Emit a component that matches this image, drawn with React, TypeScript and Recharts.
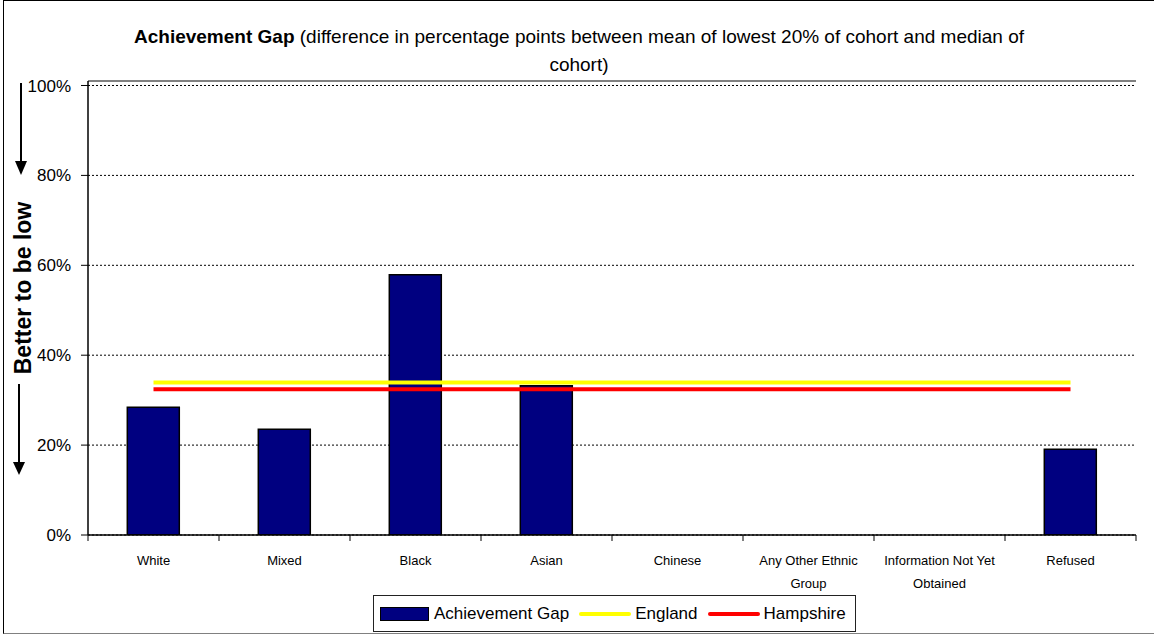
import {
  ComposedChart,
  Bar,
  Line,
  XAxis,
  YAxis,
  CartesianGrid,
  Legend,
  ReferenceLine,
} from "recharts";

const W = 1154;
const H = 634;

const categories = [
  "White",
  "Mixed",
  "Black",
  "Asian",
  "Chinese",
  "Any Other Ethnic Group",
  "Information Not Yet Obtained",
  "Refused",
];
const gapValues = [28.4, 23.5, 57.9, 33.2, null, null, null, 19.1];
const englandValues = [33.9, 33.9, 33.9, 33.9, 33.9, 33.9, 33.9, 33.9];
const hampshireValues = [32.4, 32.4, 32.4, 32.4, 32.4, 32.4, 32.4, 32.4];
const yTicks = [0, 20, 40, 60, 80, 100];

const data = categories.map((name, i) => ({
  name,
  gap: gapValues[i],
  england: englandValues[i],
  hampshire: hampshireValues[i],
}));

const FONT = '"Liberation Sans", Arial, sans-serif';

// simple word wrap, ~19 chars per line like the Excel original
function wrapLabel(s: string, max = 19): string[] {
  const lines: string[] = [];
  let cur = "";
  for (const w of s.split(" ")) {
    const next = cur ? cur + " " + w : w;
    if (next.length > max && cur) {
      lines.push(cur);
      cur = w;
    } else cur = next;
  }
  if (cur) lines.push(cur);
  return lines;
}

function CategoryTick(props: any) {
  const { x, y, payload, index, visibleTicksCount } = props;
  const half = payload.offset || 0;
  const axisY = y - 8;
  const lines = wrapLabel(String(payload.value));
  const isLast = index === visibleTicksCount - 1;
  return (
    <g>
      <line x1={x - half} y1={axisY} x2={x - half} y2={axisY + 6} stroke="#000" />
      {isLast && <line x1={x + half} y1={axisY} x2={x + half} y2={axisY + 6} stroke="#000" />}
      <text x={x} y={y + 22} textAnchor="middle" fontSize={13} fontFamily={FONT} fill="#000">
        {lines.map((l, i) => (
          <tspan key={i} x={x} dy={i === 0 ? 0 : 23}>
            {l}
          </tspan>
        ))}
      </text>
    </g>
  );
}

function LegendBox({ payload }: any) {
  return (
    <div
      style={{
        boxSizing: "border-box",
        width: 483,
        height: 37,
        border: "1px solid #222",
        background: "#fff",
        display: "flex",
        alignItems: "center",
        paddingLeft: 6,
        fontSize: 17,
        fontFamily: FONT,
        color: "#000",
        whiteSpace: "nowrap",
      }}
    >
      {(payload || []).map((p: any) => (
        <div
          key={p.value}
          style={{ display: "flex", alignItems: "center", marginRight: 10, flexShrink: 0 }}
        >
          {p.type === "rect" ? (
            <span
              style={{
                display: "inline-block",
                boxSizing: "border-box",
                width: 49,
                height: 14,
                background: "#000080",
                border: "1.5px solid #000",
                marginRight: 5,
              }}
            />
          ) : (
            <span
              style={{
                display: "inline-block",
                width: 52,
                height: 4,
                borderRadius: 2,
                background: p.color,
                marginRight: 4,
              }}
            />
          )}
          <span>{p.value}</span>
        </div>
      ))}
    </div>
  );
}

export default function App() {
  return (
    <div
      style={{
        position: "absolute",
        left: 0,
        top: 0,
        width: W,
        height: H,
        background: "#fff",
        fontFamily: FONT,
      }}
    >
      <ComposedChart
        width={W}
        height={H}
        data={data}
        margin={{ top: 81, right: 18, bottom: 39, left: 0 }}
        barCategoryGap="30%"
      >
        <XAxis xAxisId={0} type="number" domain={[0, 8]} allowDataOverflow hide height={0} />
        <XAxis
          xAxisId="cat"
          dataKey="name"
          interval={0}
          tickLine={false}
          axisLine={{ stroke: "#000", strokeWidth: 1.5 }}
          height={60}
          tick={<CategoryTick />}
        />
        <YAxis
          domain={[0, 101]}
          ticks={yTicks}
          allowDataOverflow
          tickFormatter={(v) => `${v}%`}
          tick={{ fontSize: 17, fill: "#000", fontFamily: FONT }}
          tickSize={7}
          tickMargin={10}
          tickLine={{ stroke: "#000" }}
          axisLine={{ stroke: "#000", strokeWidth: 1.5 }}
          width={88}
        />
        <CartesianGrid vertical={false} stroke="#000" strokeDasharray="2 2" />
        <ReferenceLine y={101} stroke="#808080" strokeWidth={2} ifOverflow="visible" />
        <ReferenceLine xAxisId={0} x={8} stroke="#808080" strokeWidth={2} ifOverflow="visible" />
        <Legend
          layout="horizontal"
          verticalAlign="middle"
          align="center"
          wrapperStyle={{ position: "absolute", left: 373, top: 595, width: 483, height: 37 }}
          content={<LegendBox />}
        />
        <Bar
          xAxisId="cat"
          dataKey="gap"
          name="Achievement Gap"
          legendType="rect"
          fill="#000080"
          stroke="#000"
          strokeWidth={1.5}
          isAnimationActive={false}
        />
        <Line
          xAxisId="cat"
          dataKey="england"
          name="England"
          legendType="line"
          stroke="#ffff00"
          strokeWidth={4}
          dot={false}
          activeDot={false}
          isAnimationActive={false}
        />
        <Line
          xAxisId="cat"
          dataKey="hampshire"
          name="Hampshire"
          legendType="line"
          stroke="#ff0000"
          strokeWidth={4}
          dot={false}
          activeDot={false}
          isAnimationActive={false}
        />
      </ComposedChart>

      <svg
        width={W}
        height={H}
        style={{ position: "absolute", left: 0, top: 0, pointerEvents: "none" }}
      >
        <text x={579} y={43} textAnchor="middle" fontSize={19} fontFamily={FONT} fill="#000">
          <tspan fontWeight="bold">Achievement Gap</tspan> (difference in percentage points between
          mean of lowest 20% of cohort and median of
        </text>
        <text x={579} y={71} textAnchor="middle" fontSize={19} fontFamily={FONT} fill="#000">
          cohort)
        </text>
        <text
          transform="translate(31,288) rotate(-90)"
          textAnchor="middle"
          fontSize={23}
          fontWeight="bold"
          fontFamily={FONT}
          fill="#000"
        >
          Better to be low
        </text>
        <line x1={21} y1={83} x2={21} y2={163} stroke="#000" strokeWidth={2} />
        <polygon points="15,161 27,161 21,175" fill="#000" />
        <line x1={19} y1={384} x2={19} y2={464} stroke="#000" strokeWidth={2} />
        <polygon points="13,462 25,462 19,475" fill="#000" />
      </svg>

      <div
        style={{
          position: "absolute",
          left: 3,
          top: 0,
          width: W - 4,
          height: 632,
          borderTop: "1px solid #000",
          borderLeft: "1px solid #000",
          borderBottom: "1px solid #808080",
          pointerEvents: "none",
        }}
      />
    </div>
  );
}
